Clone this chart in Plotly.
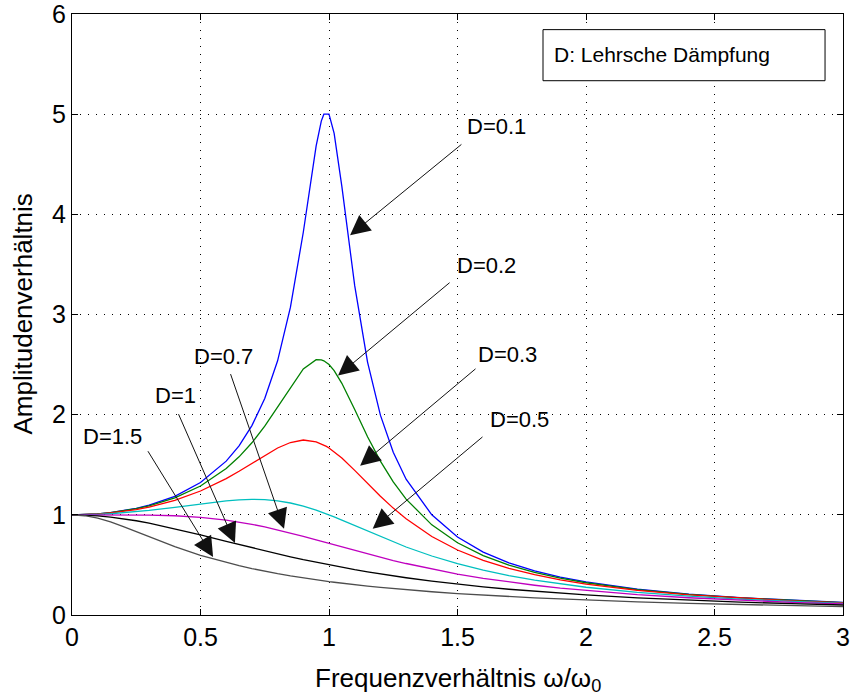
import plotly.graph_objects as go

# Frequency ratio (omega/omega_0)
eta = [0, 0.05, 0.1, 0.15, 0.2, 0.25, 0.3, 0.4, 0.5, 0.6, 0.65, 0.7, 0.75, 0.8, 0.85, 0.9, 0.95, 0.97, 0.98, 0.99, 1.0,
       1.02, 1.05, 1.1, 1.15, 1.2, 1.25, 1.3, 1.4, 1.5, 1.6, 1.7, 1.8, 1.9, 2.0, 2.2, 2.4, 2.6, 2.8, 3.0]

# Amplitude ratio, one list per damping value
amp_d01 = [1.00, 1.002, 1.010, 1.023, 1.041, 1.065, 1.097, 1.185, 1.322, 1.536, 1.689, 1.891, 2.162, 2.538, 3.073, 3.821, 4.683, 4.931, 5.0, 5.0, 5.0,
           4.809, 4.279, 3.288, 2.525, 1.995, 1.625, 1.356, 1.000, 0.778, 0.628, 0.521, 0.441, 0.379, 0.330, 0.259, 0.209, 0.173, 0.146, 0.125]
amp_d02 = [1.00, 1.002, 1.009, 1.021, 1.038, 1.061, 1.089, 1.169, 1.288, 1.463, 1.579, 1.719, 1.885, 2.076, 2.279, 2.457, 2.549, 2.548, 2.538, 2.522, 2.50,
           2.439, 2.313, 2.051, 1.780, 1.536, 1.329, 1.157, 0.900, 0.721, 0.593, 0.498, 0.425, 0.368, 0.322, 0.254, 0.206, 0.171, 0.144, 0.124]
amp_d03 = [1.00, 1.002, 1.008, 1.019, 1.034, 1.053, 1.078, 1.145, 1.238, 1.362, 1.435, 1.514, 1.593, 1.667, 1.722, 1.747, 1.729, 1.709, 1.697, 1.683, 1.667,
           1.630, 1.567, 1.444, 1.313, 1.185, 1.067, 0.960, 0.784, 0.649, 0.546, 0.466, 0.402, 0.351, 0.309, 0.246, 0.201, 0.168, 0.142, 0.122]
amp_d05 = [1.00, 1.001, 1.005, 1.011, 1.020, 1.031, 1.044, 1.075, 1.109, 1.140, 1.150, 1.155, 1.152, 1.140, 1.118, 1.087, 1.047, 1.029, 1.020, 1.010, 1.000,
           0.980, 0.948, 0.893, 0.837, 0.782, 0.730, 0.679, 0.589, 0.512, 0.448, 0.393, 0.348, 0.310, 0.277, 0.226, 0.188, 0.158, 0.135, 0.117]
amp_d07 = [1.00, 1.000, 1.000, 1.000, 1.000, 0.999, 0.998, 0.991, 0.975, 0.947, 0.928, 0.905, 0.879, 0.850, 0.818, 0.785, 0.750, 0.736, 0.729, 0.721, 0.714,
           0.700, 0.679, 0.643, 0.609, 0.576, 0.544, 0.514, 0.458, 0.409, 0.366, 0.329, 0.297, 0.268, 0.244, 0.203, 0.172, 0.147, 0.127, 0.111]
amp_d10 = [1.00, 0.998, 0.990, 0.978, 0.962, 0.941, 0.917, 0.862, 0.800, 0.735, 0.703, 0.671, 0.640, 0.610, 0.581, 0.552, 0.526, 0.515, 0.510, 0.505, 0.500,
           0.490, 0.476, 0.452, 0.431, 0.410, 0.390, 0.372, 0.338, 0.308, 0.281, 0.257, 0.236, 0.217, 0.200, 0.171, 0.148, 0.129, 0.113, 0.100]
amp_d15 = [1.00, 0.991, 0.967, 0.929, 0.883, 0.833, 0.781, 0.683, 0.596, 0.523, 0.492, 0.463, 0.436, 0.412, 0.390, 0.369, 0.351, 0.344, 0.340, 0.337, 0.333,
           0.327, 0.317, 0.302, 0.289, 0.276, 0.264, 0.252, 0.232, 0.214, 0.198, 0.184, 0.171, 0.160, 0.149, 0.131, 0.116, 0.103, 0.092, 0.083]

series_names = ["D=0.1", "D=0.2", "D=0.3", "D=0.5", "D=0.7", "D=1", "D=1.5"]
series_values = [amp_d01, amp_d02, amp_d03, amp_d05, amp_d07, amp_d10, amp_d15]
series_colors = ["#0000FF", "#008000", "#FF0000", "#00BFBF", "#BF00BF", "#000000", "#4D4D4D"]

x_ticks = [0, 0.5, 1, 1.5, 2, 2.5, 3]
x_tick_labels = ["0", "0.5", "1", "1.5", "2", "2.5", "3"]
y_ticks = [0, 1, 2, 3, 4, 5, 6]
y_tick_labels = ["0", "1", "2", "3", "4", "5", "6"]

# Label placement: (text, label x, label y, arrow tail x, tail y, arrow tip x, tip y)
labels = [
    ("D=0.1", 1.652, 4.88, 1.521, 4.71, 1.082, 3.79),
    ("D=0.2", 1.611, 3.49, 1.475, 3.33, 1.035, 2.39),
    ("D=0.3", 1.693, 2.60, 1.576, 2.47, 1.121, 1.49),
    ("D=0.5", 1.743, 1.95, 1.603, 1.79, 1.170, 0.86),
    ("D=0.7", 0.591, 2.58, 0.615, 2.42, 0.825, 0.86),
    ("D=1", 0.401, 2.19, 0.412, 2.02, 0.634, 0.72),
    ("D=1.5", 0.156, 1.78, 0.292, 1.65, 0.549, 0.58),
]

FONT = "Liberation Sans, Arial, sans-serif"

fig = go.Figure()
for name, vals, col in zip(series_names, series_values, series_colors):
    fig.add_trace(go.Scatter(x=eta, y=vals, mode="lines", name=name,
                             line=dict(color=col, width=1.3), showlegend=False))

annotations = []
for text, lx, ly, tx, ty, hx, hy in labels:
    annotations.append(dict(x=hx, y=hy, ax=tx, ay=ty, xref="x", yref="y", axref="x", ayref="y",
                            text="", showarrow=True, arrowhead=2, arrowsize=4, arrowwidth=1,
                            arrowcolor="#111111", standoff=0, startstandoff=0))
    annotations.append(dict(x=lx, y=ly, xref="x", yref="y", text=text, showarrow=False,
                            font=dict(family=FONT, size=22, color="black"),
                            xanchor="center", yanchor="middle"))

# axis titles
annotations.append(dict(x=0.5, y=-0.0, xref="paper", yref="paper", yshift=-46,
                        text="Frequenzverhältnis ω/ω<sub>0</sub>", showarrow=False,
                        font=dict(family=FONT, size=26, color="black"),
                        xanchor="center", yanchor="top"))
annotations.append(dict(x=0, y=0.5, xref="paper", yref="paper", xshift=-50,
                        text="Amplitudenverhältnis", showarrow=False, textangle=-90,
                        font=dict(family=FONT, size=26, color="black"),
                        xanchor="center", yanchor="middle"))

# legend-like box
annotations.append(dict(x=0.6226, y=0.9334, xref="paper", yref="paper",
                        text="D: Lehrsche Dämpfung", showarrow=False,
                        font=dict(family=FONT, size=21, color="black"),
                        xanchor="left", yanchor="middle"))

fig.add_shape(type="rect", xref="paper", yref="paper",
              x0=0.6109, x1=0.9767, y0=0.889, y1=0.974,
              line=dict(color="black", width=1), fillcolor="white", layer="above")

axis_common = dict(showline=True, linecolor="black", linewidth=1, mirror="ticks",
                   ticks="inside", ticklen=6, tickcolor="black",
                   showgrid=True, gridcolor="black", gridwidth=1, griddash="1px,7px",
                   zeroline=False, ticklabeloverflow="allow", automargin=False,
                   tickfont=dict(family=FONT, size=25, color="black"))

fig.update_xaxes(range=[0, 3], tickvals=x_ticks, ticktext=x_tick_labels, **axis_common)
fig.update_yaxes(range=[0, 6], tickvals=y_ticks, ticktext=y_tick_labels, **axis_common)

fig.update_layout(width=853, height=696, margin=dict(l=72, r=10, t=14, b=81, autoexpand=False),
                  paper_bgcolor="white", plot_bgcolor="white",
                  annotations=annotations, showlegend=False)

fig.write_html("out.html")
